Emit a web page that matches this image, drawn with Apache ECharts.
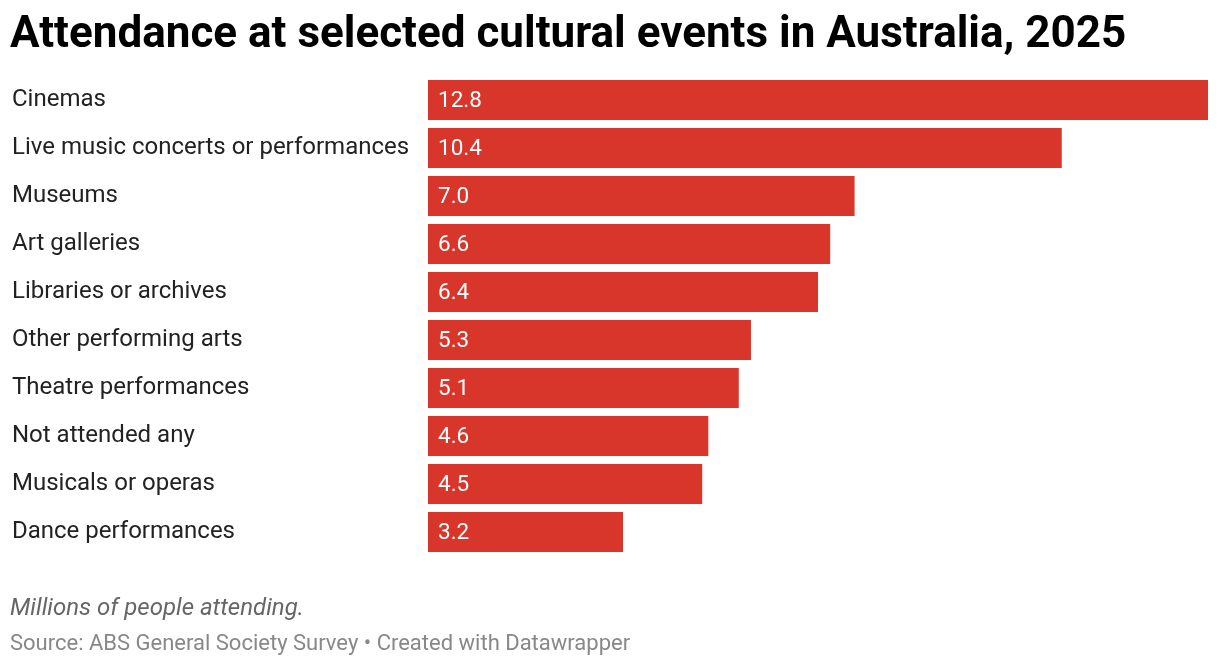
<!DOCTYPE html>
<html lang="en">
<head>
<meta charset="utf-8" />
<title>Attendance at cultural events</title>
<style>
  html, body { margin: 0; padding: 0; background: #fff; }
  #chart { width: 1220px; height: 666px; }
</style>
<script src="https://cdn.jsdelivr.net/npm/echarts@6/dist/echarts.min.js"></script>
</head>
<body>
<div id="chart"></div>
<script>
// categories, top to bottom
var categories = [
  'Cinemas',
  'Live music concerts or performances',
  'Museums',
  'Art galleries',
  'Libraries or archives',
  'Other performing arts',
  'Theatre performances',
  'Not attended any',
  'Musicals or operas',
  'Dance performances'
];
// millions of people attending
var attendance = [12.8, 10.4, 7.0, 6.6, 6.4, 5.3, 5.1, 4.6, 4.5, 3.2];

var chart = echarts.init(document.getElementById('chart'));

chart.setOption({
  animation: false,
  textStyle: { fontFamily: 'Roboto' },
  title: [
    {
      text: 'Attendance at selected cultural events in Australia, 2025',
      left: 10, top: 14, padding: 0,
      textStyle: { fontFamily: 'Roboto', fontSize: 44, fontWeight: 'bold', color: '#000' }
    },
    {
      text: 'Millions of people attending.',
      left: 10, top: 597, padding: 0,
      textStyle: { fontFamily: 'Roboto', fontSize: 24, fontStyle: 'italic', fontWeight: 'normal', color: '#666' }
    },
    {
      text: 'Source: ABS General Society Survey \u2022 Created with Datawrapper',
      left: 10, top: 633, padding: 0,
      textStyle: { fontFamily: 'Roboto', fontSize: 22, fontWeight: 'normal', color: '#888' }
    }
  ],
  grid: { left: 428, right: 12, top: 76, height: 480 },
  xAxis: {
    type: 'value', min: 0, max: 12.8,
    show: false
  },
  yAxis: {
    type: 'category',
    data: categories,
    inverse: true,
    axisLine: { show: false },
    axisTick: { show: false },
    splitLine: { show: false },
    axisLabel: {
      align: 'left',
      margin: 416,
      fontSize: 24,
      color: '#222',
      padding: [4, 0, 0, 0]
    }
  },
  series: [{
    type: 'bar',
    data: attendance,
    barWidth: 40,
    itemStyle: { color: '#d8352b' },
    label: {
      show: true,
      position: 'insideLeft',
      offset: [5, 1],
      fontSize: 22.5,
      color: '#fff',
      formatter: function (p) { return p.value.toFixed(1); }
    }
  }]
});

window.onresize = function () { chart.resize(); };
</script>
</body>
</html>
